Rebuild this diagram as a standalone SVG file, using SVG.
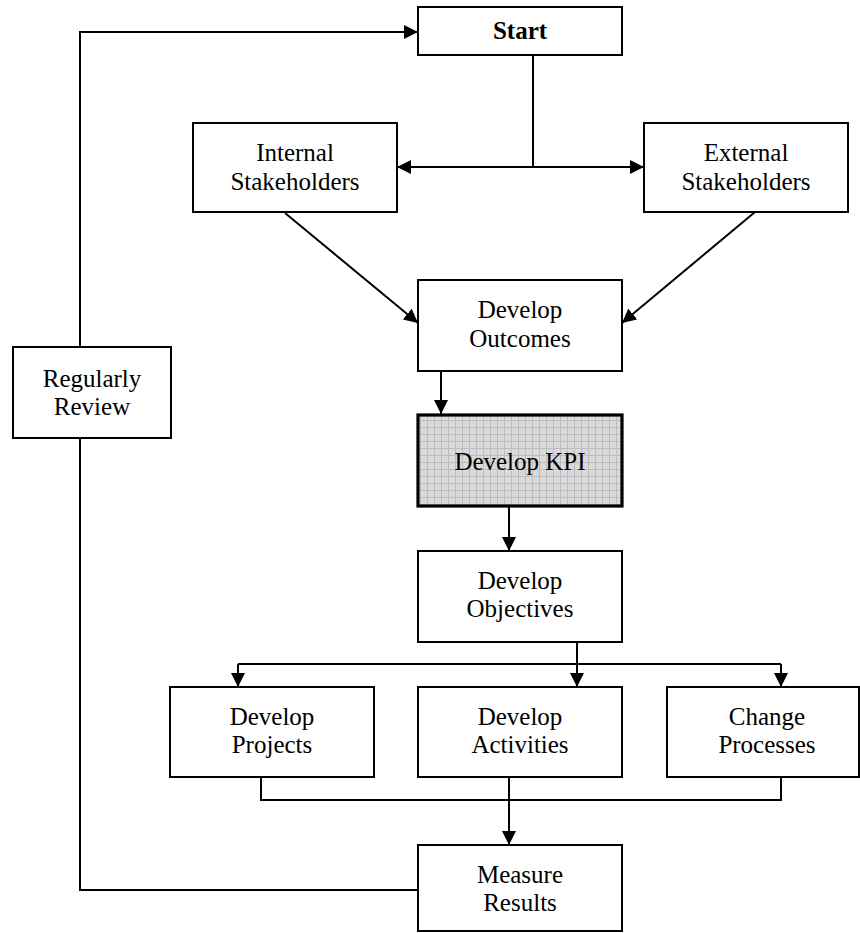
<svg xmlns="http://www.w3.org/2000/svg" width="860" height="933" viewBox="0 0 860 933">
  <defs>
    <style>
      .box { fill: #ffffff; stroke: #000000; stroke-width: 2; }
      .kpi { fill: url(#grid); stroke: #000000; stroke-width: 3.2; }
      .lbl { font-family: "Liberation Serif", "Times New Roman", serif; font-size: 25px; fill: #000000; text-anchor: middle; }
      .bold { font-weight: bold; }
      .wire { fill: none; stroke: #000000; stroke-width: 2; }
      .arrow { marker-end: url(#head); }
    </style>
    <marker id="head" markerUnits="userSpaceOnUse" markerWidth="15" markerHeight="15" refX="14" refY="7" orient="auto-start-reverse">
      <path d="M0,0 L14,7 L0,14 Z" fill="#000000"/>
    </marker>
    <pattern id="grid" patternUnits="userSpaceOnUse" width="7" height="7">
      <rect width="7" height="7" fill="#dadada"/>
      <path d="M0,0.5 H7 M0.5,0 V7" stroke="#bdbdbd" stroke-width="1" fill="none"/>
    </pattern>
  </defs>

  <!-- connectors -->
  <g id="connectors">
    <!-- review loop back to start -->
    <polyline class="wire arrow" points="80,347 80,32 418,32"/>
    <!-- start splits to stakeholders -->
    <line class="wire" x1="533" y1="55" x2="533" y2="167"/>
    <line class="wire" x1="397" y1="167" x2="644" y2="167" marker-start="url(#head)" marker-end="url(#head)"/>
    <!-- stakeholders into outcomes -->
    <line class="wire arrow" x1="285" y1="213" x2="418" y2="323"/>
    <line class="wire arrow" x1="755" y1="212" x2="622" y2="323"/>
    <!-- outcomes -> KPI -> objectives -->
    <line class="wire arrow" x1="441" y1="371" x2="441" y2="414"/>
    <line class="wire arrow" x1="509" y1="506" x2="509" y2="551"/>
    <!-- objectives fan out -->
    <line class="wire arrow" x1="577" y1="642" x2="577" y2="687"/>
    <line class="wire" x1="238" y1="664" x2="781" y2="664"/>
    <line class="wire arrow" x1="238" y1="664" x2="238" y2="687"/>
    <line class="wire arrow" x1="781" y1="664" x2="781" y2="687"/>
    <!-- merge into measure results -->
    <polyline class="wire" points="261,777 261,800 781,800 781,777"/>
    <line class="wire arrow" x1="509" y1="777" x2="509" y2="845"/>
    <!-- measure results back to review -->
    <polyline class="wire" points="418,890 80,890 80,438"/>
  </g>

  <g id="start">
    <rect class="box" x="418" y="7" width="204" height="48"/>
    <text class="lbl bold" x="520" y="39">Start</text>
  </g>

  <g id="internal-stakeholders">
    <rect class="box" x="193" y="123" width="204" height="89"/>
    <text class="lbl" x="295" y="161">Internal</text>
    <text class="lbl" x="295" y="190">Stakeholders</text>
  </g>

  <g id="external-stakeholders">
    <rect class="box" x="644" y="123" width="204" height="89"/>
    <text class="lbl" x="746" y="161">External</text>
    <text class="lbl" x="746" y="190">Stakeholders</text>
  </g>

  <g id="develop-outcomes">
    <rect class="box" x="418" y="280" width="204" height="91"/>
    <text class="lbl" x="520" y="318">Develop</text>
    <text class="lbl" x="520" y="347">Outcomes</text>
  </g>

  <g id="develop-kpi">
    <rect class="kpi" x="418" y="415" width="204" height="91"/>
    <text class="lbl" x="520" y="470">Develop KPI</text>
  </g>

  <g id="develop-objectives">
    <rect class="box" x="418" y="551" width="204" height="91"/>
    <text class="lbl" x="520" y="589">Develop</text>
    <text class="lbl" x="520" y="617">Objectives</text>
  </g>

  <g id="develop-projects">
    <rect class="box" x="170" y="687" width="204" height="90"/>
    <text class="lbl" x="272" y="725">Develop</text>
    <text class="lbl" x="272" y="753">Projects</text>
  </g>

  <g id="develop-activities">
    <rect class="box" x="418" y="687" width="204" height="90"/>
    <text class="lbl" x="520" y="725">Develop</text>
    <text class="lbl" x="520" y="753">Activities</text>
  </g>

  <g id="change-processes">
    <rect class="box" x="667" y="687" width="192" height="90"/>
    <text class="lbl" x="767" y="725">Change</text>
    <text class="lbl" x="767" y="753">Processes</text>
  </g>

  <g id="regularly-review">
    <rect class="box" x="13" y="347" width="158" height="91"/>
    <text class="lbl" x="92" y="387">Regularly</text>
    <text class="lbl" x="92" y="415">Review</text>
  </g>

  <g id="measure-results">
    <rect class="box" x="418" y="845" width="204" height="86"/>
    <text class="lbl" x="520" y="883">Measure</text>
    <text class="lbl" x="520" y="911">Results</text>
  </g>
</svg>
